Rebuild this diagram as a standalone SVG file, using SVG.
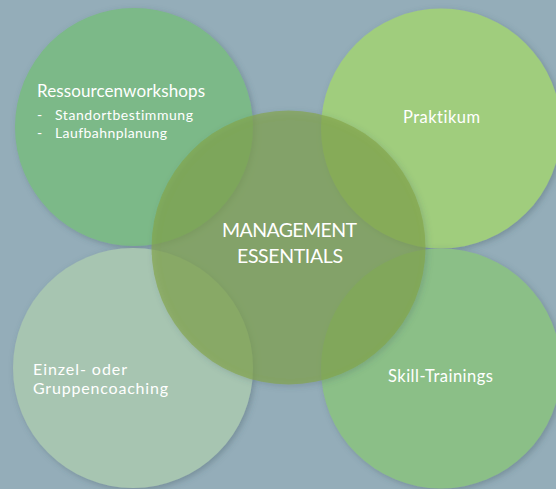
<svg xmlns="http://www.w3.org/2000/svg" width="556" height="489" viewBox="0 0 556 489">
<defs>
<filter id="sh" x="-20%" y="-20%" width="140%" height="140%">
<feDropShadow dx="2" dy="2" stdDeviation="3" flood-color="#3c5560" flood-opacity="0.35"/>
</filter>
</defs>
<style>
text { font-family: "Lato", "Open Sans", "Liberation Sans", sans-serif; fill: #ffffff; font-variant-ligatures: none; }
.big { font-size: 17px; }
.coach { font-size: 16px; }
.sub { font-size: 14px; }
.mid { font-size: 16.5px; }
.ctr { font-size: 19.5px; }
circle { filter: url(#sh); }
</style>
<rect x="0" y="0" width="556" height="489" fill="#94adb9"/>
<g id="node-ressourcen">
<circle cx="134" cy="127" r="119" fill="#7bb988"/>
<text class="big" x="37" y="97" textLength="168">Ressourcenworkshops</text>
<text class="sub" x="37" y="120">-</text>
<text class="sub" x="55" y="120" textLength="138">Standortbestimmung</text>
<text class="sub" x="37" y="138">-</text>
<text class="sub" x="55" y="138" textLength="112">Laufbahnplanung</text>
</g>
<g id="node-praktikum">
<circle cx="441" cy="128.5" r="120" fill="#a0cd7d"/>
<text class="mid" x="441.5" y="123" text-anchor="middle" textLength="77">Praktikum</text>
</g>
<g id="node-coaching">
<circle cx="133" cy="368" r="120" fill="#a7c5b1"/>
<text class="coach" x="33" y="375" textLength="94">Einzel- oder</text>
<text class="coach" x="33" y="394" textLength="135">Gruppencoaching</text>
</g>
<g id="node-skill">
<circle cx="441" cy="368.5" r="120" fill="#8bbf87"/>
<text class="mid" x="440.5" y="382" text-anchor="middle" textLength="105">Skill-Trainings</text>
</g>
<g id="node-management">
<circle cx="288.5" cy="247.5" r="137" fill="#82a546" fill-opacity="0.65"/>
<text class="ctr" x="289.5" y="237" text-anchor="middle" textLength="135">MANAGEMENT</text>
<text class="ctr" x="290" y="263" text-anchor="middle" textLength="106">ESSENTIALS</text>
</g>
<g id="connectors"></g>
</svg>
